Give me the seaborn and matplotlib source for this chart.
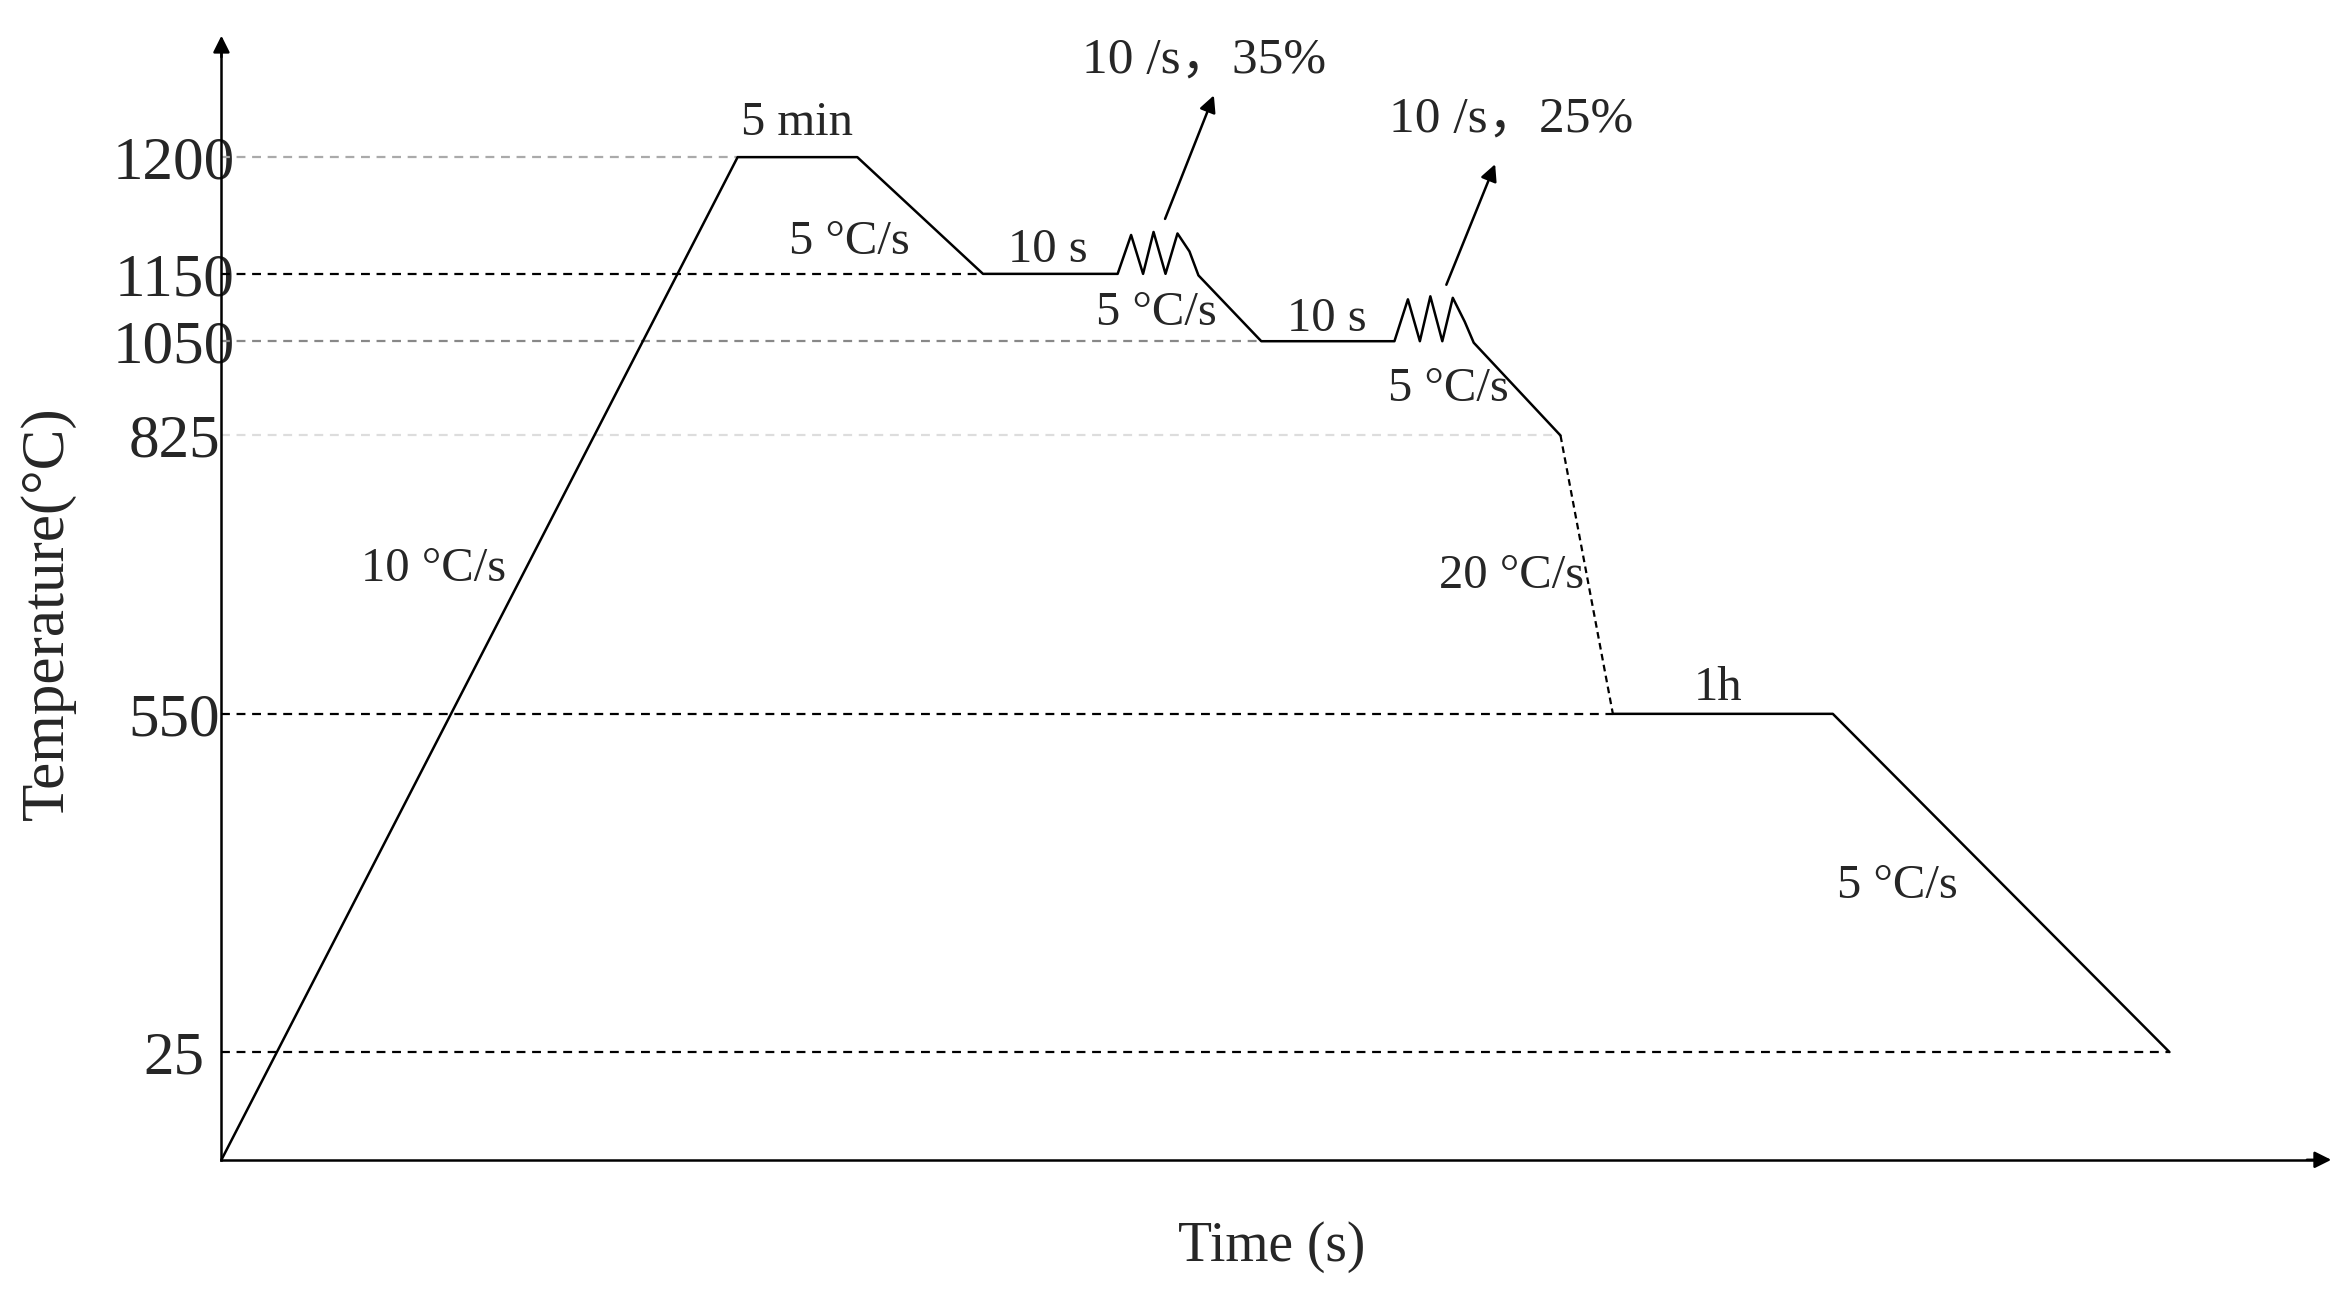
import matplotlib
matplotlib.use("Agg")
import matplotlib.pyplot as plt
import seaborn as sns
import numpy as np

# schematic coordinates (reference drawing units, y grows downward)
path_x = [148, 493, 573, 657, 747, 756, 764, 771, 779, 787, 795, 801, 843, 932, 941, 949, 956, 964, 971, 979, 985, 1043]
path_y = [775, 105, 105, 183, 183, 157, 183, 155, 183, 156, 168, 184, 228, 228, 200, 228, 198, 228, 199, 215, 229, 291]
quench_x = [1043, 1078]
quench_y = [291, 477]
tail_x = [1078, 1225, 1450]
tail_y = [477, 477, 703]

tick_labels = ["1200", "1150", "1050", "825", "550", "25"]
tick_y = [105, 183, 228, 291, 477, 703]
ref_end_x = [493, 657, 843, 1043, 1078, 1450]
ref_colors = ["#aaaaaa", "black", "#888888", "#dddddd", "black", "black"]

labels = ["5 min", "5 °C/s", "10 s", "5 °C/s", "10 s", "5 °C/s", "20 °C/s", "1h", "10 °C/s", "5 °C/s"]
label_x = [533, 568, 700, 773, 887, 968, 1010, 1148, 290, 1268]
label_y = [82, 162, 167, 209, 213, 260, 385, 460, 380, 592]

sns.set_style("white")
plt.rcParams['font.family'] = ['Liberation Serif', 'Noto Sans CJK SC']

fig = plt.figure(figsize=(23.46, 12.93), dpi=100)
ax = fig.add_axes([0, 0, 1, 1])
ax.set_xlim(0, 1568)
ax.set_ylim(864, 0)

for ty, xe, c in zip(tick_y, ref_end_x, ref_colors):
    ax.plot([148, xe], [ty, ty], ls=(0, (4, 3)), color=c, lw=1.6)

sns.lineplot(x=path_x, y=path_y, sort=False, estimator=None, color="black", lw=1.8, ax=ax)
sns.lineplot(x=quench_x, y=quench_y, sort=False, estimator=None, color="black", lw=1.6,
             linestyle=(0, (3, 2)), ax=ax)
sns.lineplot(x=tail_x, y=tail_y, sort=False, estimator=None, color="black", lw=1.8, ax=ax)

# axes spines
for s in ["top", "right"]:
    ax.spines[s].set_visible(False)
ax.spines["left"].set_position(("data", 148))
ax.spines["left"].set_bounds(775, 30)
ax.spines["bottom"].set_position(("data", 775))
ax.spines["bottom"].set_bounds(148, 1552)
for s in ["left", "bottom"]:
    ax.spines[s].set_linewidth(1.8)
    ax.spines[s].set_color("black")
ax.annotate("", xy=(148, 22), xytext=(148, 40),
            arrowprops=dict(arrowstyle="-|>", color="black", lw=1.8, mutation_scale=25))
ax.annotate("", xy=(1560, 775), xytext=(1540, 775),
            arrowprops=dict(arrowstyle="-|>", color="black", lw=1.8, mutation_scale=25))

ax.set_xticks([])
ax.set_yticks(tick_y)
ax.set_yticklabels(tick_labels, fontsize=44)
ax.tick_params(axis="y", length=0, pad=34)
for lab in ax.get_yticklabels():
    lab.set_horizontalalignment("center")

# deformation arrows
ax.annotate("", xy=(812, 62), xytext=(778, 148),
            arrowprops=dict(arrowstyle="-|>", color="black", lw=1.8, mutation_scale=25))
ax.annotate("", xy=(1000, 108), xytext=(966, 192),
            arrowprops=dict(arrowstyle="-|>", color="black", lw=1.8, mutation_scale=25))
ax.text(805, 40, "10 /s，35%", fontsize=37, ha="center", va="center")
ax.text(1010, 80, "10 /s，25%", fontsize=37, ha="center", va="center")

for t, x, y in zip(labels, label_x, label_y):
    ax.text(x, y, t, fontsize=35, ha="center", va="center")

ax.text(32, 410, "Temperature(°C)", fontsize=44, rotation=90, ha="center", va="center")
ax.text(850, 833, "Time (s)", fontsize=40, ha="center", va="center")

fig.savefig("out.png", dpi=100)
